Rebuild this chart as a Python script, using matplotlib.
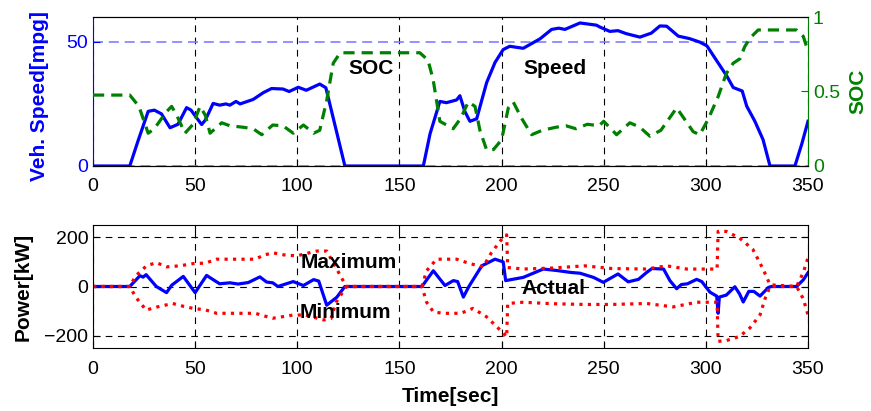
import matplotlib.pyplot as plt

plt.rcParams['font.family'] = ['Liberation Sans', 'DejaVu Sans']

# speed trace [mph]
t_spd = [0, 18, 22, 27, 30, 33.5, 37.7, 41.6, 45.8, 48,
         50.7, 53.2, 55, 58.8, 62, 65, 67, 70, 72, 78.4,
         83.3, 87.4, 93, 96, 100.5, 104.4, 111, 114, 123.3, 161.7,
         165, 169.8, 173, 178, 179.6, 182, 184.5, 187.8, 192.7, 196.8,
         200.8, 204, 210.6, 218.8, 224.5, 228, 231, 238.4, 246.5, 248,
         253, 257, 261, 267.7, 273.3, 277.5, 280.8, 286.5, 292, 297,
         300.5, 305.3, 310.2, 313.4, 317.8, 320, 324, 328, 331.4, 343.6,
         347, 350]
speed = [0, 0, 10, 22, 22.5, 21, 15.4, 16.8, 23.5, 22.5,
         19.4, 16.7, 18.5, 25.2, 24.5, 25, 24.5, 26, 25, 26.8,
         29.5, 31.2, 31, 30, 31.7, 30.5, 33, 31.5, 0, 0,
         13, 26, 25.5, 26.6, 28.3, 22, 18, 19, 33.6, 41.7,
         46.9, 48.2, 47.4, 51.2, 55, 55.5, 55, 57.6, 56.7, 56,
         54.2, 54.5, 53.3, 51.9, 53.5, 56.4, 56.3, 52.3, 51.3, 49.9,
         48.4, 42.4, 36.3, 31.6, 30.2, 24.1, 18, 10.6, 0, 0,
         9, 18]

# state of charge
t_soc = [0, 18, 22.5, 27, 30, 36, 38.5, 41, 45, 49,
         52.4, 55, 57.3, 63, 67, 73.6, 78.4, 82.6, 88, 93,
         98, 103, 108, 111, 114.4, 117.6, 121, 160, 164, 166.5,
         169.8, 176.3, 180, 183.7, 187, 189.4, 192.7, 196, 200, 203.3,
         205.7, 209.8, 214.7, 220, 226.6, 231.5, 236.4, 242, 247.7, 250,
         256.3, 262.8, 267.7, 272.6, 278, 285.7, 289.8, 293.8, 297, 301,
         306, 310, 313.4, 316.7, 319, 321.5, 325.6, 344.4, 347.7, 350]
soc = [0.476, 0.476, 0.40, 0.22, 0.25, 0.365, 0.40, 0.34, 0.22, 0.28,
       0.40, 0.34, 0.22, 0.29, 0.27, 0.26, 0.25, 0.21, 0.275, 0.27,
       0.22, 0.275, 0.22, 0.24, 0.44, 0.69, 0.76, 0.76, 0.71, 0.58,
       0.30, 0.25, 0.32, 0.43, 0.40, 0.24, 0.107, 0.11, 0.175, 0.39,
       0.43, 0.32, 0.21, 0.24, 0.26, 0.27, 0.25, 0.28, 0.27, 0.30,
       0.21, 0.29, 0.26, 0.20, 0.24, 0.39, 0.31, 0.23, 0.21, 0.31,
       0.465, 0.62, 0.69, 0.72, 0.80, 0.857, 0.913, 0.913, 0.87, 0.77]

# power [kW]
t_act = [0, 18, 23, 24.5, 26, 31, 36, 38.5, 44.2, 50,
         55.6, 62, 67, 71, 76, 81.7, 85, 88, 90.5, 98,
         103, 108, 110.5, 114.4, 119.3, 123.3, 161, 166.6, 172.3, 176.4,
         178.5, 181.3, 184, 190.3, 196.8, 200.8, 202, 210.6, 220.4, 227,
         234, 238.4, 245, 249.8, 257, 262, 267, 271, 273.6, 279.3,
         282.4, 285.7, 288, 291, 295.5, 298, 302, 305.3, 306, 306.6,
         310, 314.2, 316.5, 318.3, 321, 323.5, 326.5, 330.6, 332, 344.4,
         347.7, 350]
p_act = [0, 0, 44, 38, 48, 0, -25, 5, 41, -25,
         45, 11, 15, 10, 16, 39, 18, 15, 0, 20,
         4, 28, 22, -76, -44, 0, 0, 64, 4, 24,
         20, -43, 0, 84, 111, 100, 24, 37, 71, 65,
         57, 54, 37, 17, 51, 19, 29, 57, 73, 71,
         24, -9, 8, 11, 29, 20, -23, -39, -109, -43,
         -35, -1, -30, -63, -20, -20, -39, -4, 0, 0,
         27, 56]

t_max = [0, 18, 21, 26.2, 31, 36, 42.5, 49, 55, 60.5,
         70, 79.5, 83.4, 88, 94.5, 100, 109.4, 114.4, 119.3, 124,
         161, 163.3, 168.2, 178, 184.5, 191, 195, 200.8, 202.5, 203,
         210.6, 225, 240.6, 254, 271, 280.8, 290.6, 305.5, 306, 310,
         316.5, 323, 328, 331.4, 344.4, 347.7, 350]
p_max = [0, 0, 44, 84, 97, 80, 84, 93, 95, 111,
         111, 111, 127, 137, 127, 125, 144, 144, 71, 0,
         0, 64, 111, 111, 93, 80, 137, 200, 210, 77,
         71, 75, 84, 73, 71, 84, 71, 71, 224, 224,
         197, 151, 71, 7, 0, 57, 117]

t_min = [0, 18, 21, 26, 31, 39, 44, 49, 55, 60.5,
         70, 79.5, 84, 88, 98, 104, 113, 116.5, 119, 124,
         161, 163.3, 166.6, 171.3, 180, 186, 192.6, 200.8, 202.5, 203,
         210.6, 225, 240.6, 254, 271, 284, 295.5, 305.5, 306, 310,
         316.5, 321.5, 326.5, 329, 331.4, 344.4, 347.7, 350]
p_min = [0, 0, -44, -96, -84, -69, -80, -89, -95, -109,
         -109, -109, -120, -129, -116, -116, -136, -130, -64, 0,
         0, -64, -103, -109, -109, -89, -123, -189, -205, -69,
         -64, -70, -73, -73, -69, -83, -64, -64, -223, -220,
         -203, -169, -116, -49, 0, 0, -50, -116]

green = (0, 0.5, 0)
xt = [0, 50, 100, 150, 200, 250, 300, 350]

fig = plt.figure(figsize=(8.71, 4.11), dpi=100)
ax1 = fig.add_axes([93/871, 1-166/411, 715/871, 149/411])
ax3 = fig.add_axes([93/871, 1-348/411, 715/871, 123/411])

# ---- top: speed and SOC
ax1.plot(t_spd, speed, color='blue', lw=2.3)
ax1.set_xlim(0, 350)
ax1.set_ylim(0, 60)
ax1.set_xticks(xt)
ax1.set_yticks([0, 50])
ax1.tick_params(direction='in', length=5, labelsize=14)
ax1.tick_params(axis='x', pad=8.5)
ax1.tick_params(axis='y', colors='blue')
ax1.xaxis.grid(True, color='k', ls=(0, (6, 5)), lw=0.8)
ax1.yaxis.grid(True, color='#7f7fff', ls=(0, (6, 3.5)), lw=1.2)
ax1.spines['left'].set_color('blue')
ax1.spines['right'].set_visible(False)
ax1.set_ylabel('Veh. Speed[mpg]', color='blue', fontsize=15, fontweight='bold')
ax1.yaxis.set_label_coords(-0.062, 0.47)
ax1.text(136, 37, 'SOC', ha='center', va='baseline', fontsize=15, fontweight='bold')
ax1.text(226, 37, 'Speed', ha='center', va='baseline', fontsize=15, fontweight='bold')

ax2 = ax1.twinx()
ax2.plot(t_soc, soc, color=green, lw=2.3, ls=(0, (3.5, 2.2)))
ax2.set_ylim(0, 1)
ax2.set_yticks([0, 0.5, 1])
ax2.set_yticklabels(['0', '0.5', '1'])
ax2.tick_params(direction='in', length=5, colors=green, labelsize=14)
ax2.spines['right'].set_color(green)
ax2.spines['left'].set_visible(False)
ax2.set_ylabel('SOC', color=green, fontsize=15, fontweight='bold')
ax2.yaxis.set_label_coords(1.056, 0.5)

# ---- bottom: power
ax3.plot(t_act, p_act, color='blue', lw=2.3)
ax3.plot(t_max, p_max, color='red', ls=':', lw=2.3)
ax3.plot(t_min, p_min, color='red', ls=':', lw=2.3)
ax3.set_xlim(0, 350)
ax3.set_ylim(-250, 250)
ax3.set_xticks(xt)
ax3.set_yticks([-200, 0, 200])
ax3.tick_params(direction='in', length=5, labelsize=14, top=True, right=True)
ax3.tick_params(axis='x', pad=9)
ax3.grid(True, color='k', ls=(0, (6, 5)), lw=0.8)
ax3.set_ylabel('Power[kW]', fontsize=15, fontweight='bold')
ax3.yaxis.set_label_coords(-0.085, 0.5)
ax3.set_xlabel('Time[sec]', fontsize=15, fontweight='bold')
ax3.xaxis.set_label_coords(0.5, -0.315)
ax3.text(125, 77, 'Maximum', ha='center', va='baseline', fontsize=15, fontweight='bold')
ax3.text(123.3, -129, 'Minimum', ha='center', va='baseline', fontsize=15, fontweight='bold')
ax3.text(225.3, -29, 'Actual', ha='center', va='baseline', fontsize=15, fontweight='bold')

fig.savefig('out.png', dpi=100)
